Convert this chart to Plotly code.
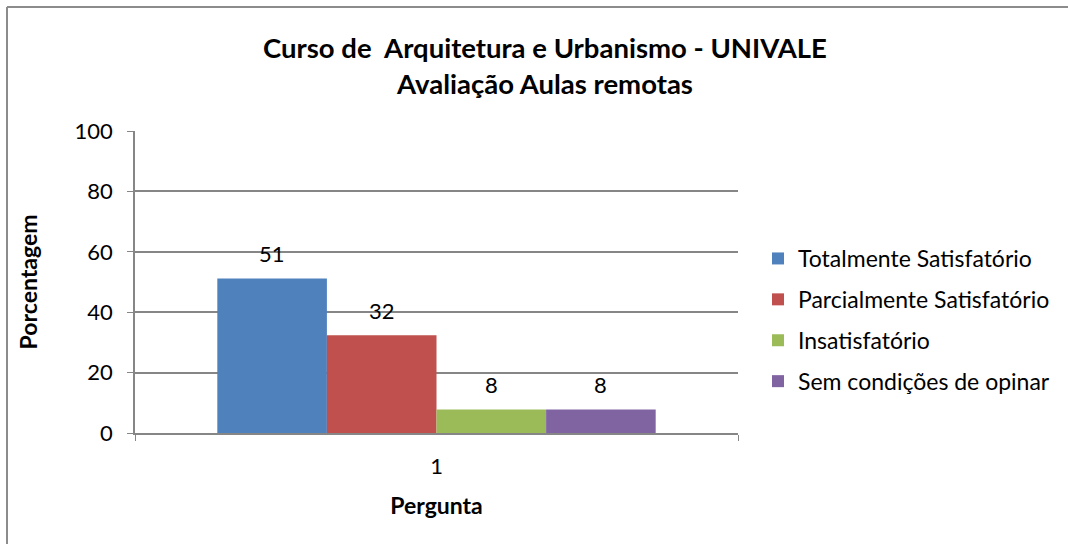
import plotly.graph_objects as go

categories = ["1"]
series_names = ["Totalmente Satisfatório", "Parcialmente Satisfatório", "Insatisfatório", "Sem condições de opinar"]
series_values = [51.2, 32.4, 7.8, 7.8]
series_colors = ["#4F81BD", "#C0504D", "#9BBB59", "#8064A2"]
y_ticks = [0, 20, 40, 60, 80, 100]

FONT = "Lato, Calibri, Carlito, sans-serif"

W, H = 1068, 544
L, R, T, B = 135, 330, 131, 111
plot_w = W - L - R
plot_h = H - T - B

fig = go.Figure()
for name, val, col in zip(series_names, series_values, series_colors):
    fig.add_trace(go.Bar(
        x=categories, y=[val], name=name, marker=dict(color=col, line=dict(width=0)),
        legendgroup=name,
    ))

group_frac = 1 - 0.273
bar_px = plot_w * group_frac / len(series_values)
cat_index = categories.index("1")
for i, val in enumerate(series_values):
    fig.add_annotation(
        xref="x", yref="y", x=cat_index, y=val, text=f"{val:.0f}", showarrow=False,
        xshift=(i - (len(series_values) - 1) / 2) * bar_px, yshift=25,
        yanchor="middle", font=dict(family=FONT, size=22, color="#000000"),
    )

fig.update_layout(
    width=W, height=H,
    margin=dict(l=L, r=R, t=T, b=B, autoexpand=False),
    paper_bgcolor="white", plot_bgcolor="white",
    barmode="group", bargap=0.273, bargroupgap=0,
    font=dict(family=FONT, size=22, color="#000000"),
    showlegend=True,
    title=dict(
        text="<b>Curso de  Arquitetura e Urbanismo - UNIVALE<br>Avaliação Aulas remotas</b>",
        x=545 / W, xanchor="center", y=1 - 58 / H, yanchor="middle",
        font=dict(family=FONT, size=27.5, color="#000000"),
    ),
    legend=dict(
        x=(758 - L) / plot_w, xanchor="left", y=(433 - 320) / plot_h, yanchor="middle",
        font=dict(family=FONT, size=23, color="#000000"),
        traceorder="grouped", tracegroupgap=8, itemwidth=30,
        bgcolor="rgba(0,0,0,0)",
    ),
    xaxis=dict(
        type="category", range=[-0.5, len(categories) - 0.5],
        showline=True, linecolor="#868686", linewidth=1.5,
        ticks="outside", tickson="boundaries", ticklen=6, tickcolor="#868686",
        ticklabelstandoff=13, showgrid=False,
        title=dict(text="<b>Pergunta</b>", standoff=20, font=dict(family=FONT, size=23)),
        automargin=False,
    ),
    yaxis=dict(
        range=[0, 100], tickvals=y_ticks, showline=True, linecolor="#868686", linewidth=1.5,
        ticks="outside", ticklen=6, tickcolor="#868686",
        showgrid=True, gridcolor="#868686", gridwidth=1.5, zeroline=False,
        ticklabelstandoff=10,
        title=dict(text="<b>Porcentagem</b>", standoff=31, font=dict(family=FONT, size=23)),
        automargin=False,
    ),
    shapes=[
        dict(type="line", xref="paper", yref="paper",
             x0=(7 - L) / plot_w, x1=(W - L) / plot_w,
             y0=1 + (T - 7) / plot_h, y1=1 + (T - 7) / plot_h,
             line=dict(color="#8c8c8c", width=2)),
        dict(type="line", xref="paper", yref="paper",
             x0=(7 - L) / plot_w, x1=(7 - L) / plot_w,
             y0=-B / plot_h, y1=1 + (T - 7) / plot_h,
             line=dict(color="#8c8c8c", width=2)),
    ],
)

fig.write_html("out.html", config={"displayModeBar": False},
               post_script="document.body.style.margin='0';")
